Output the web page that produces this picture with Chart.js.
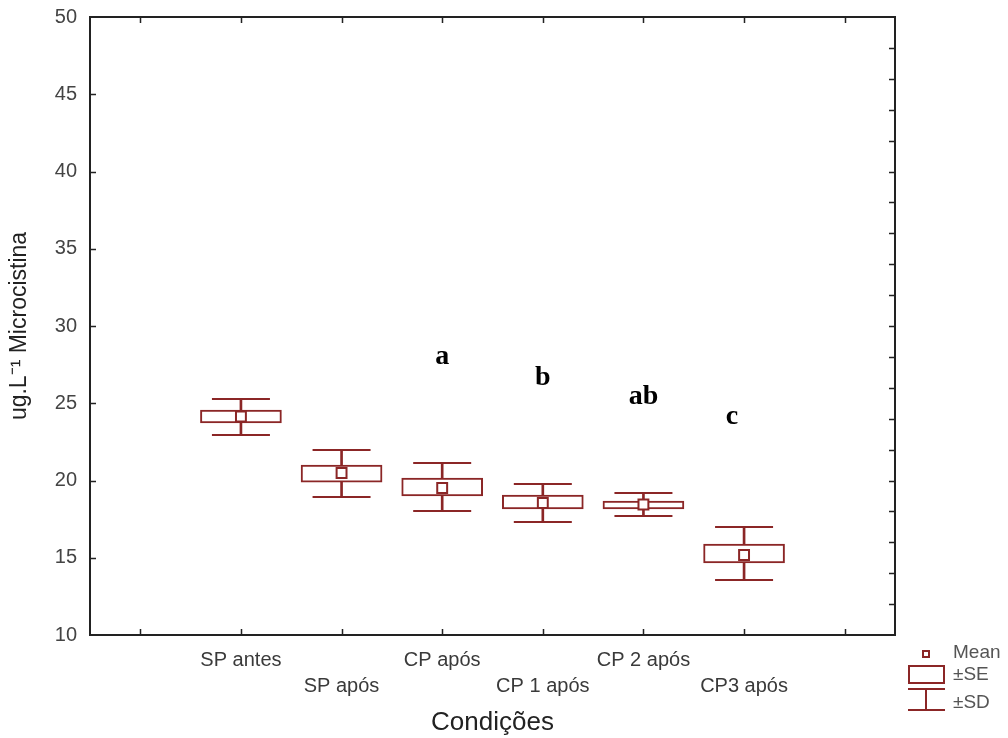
<!DOCTYPE html>
<html>
<head>
<meta charset="utf-8">
<script src="https://cdn.jsdelivr.net/npm/chart.js@4.4.1/dist/chart.umd.min.js"></script>
<style>
  html, body { margin: 0; padding: 0; background: #fff; }
  #wrap { width: 1008px; height: 738px; }
</style>
</head>
<body>
<div id="wrap"><canvas id="boxChart" width="1008" height="738"></canvas></div>
<script>
// categories (first and last slot are empty on the axis)
var categories = ["", "SP antes", "SP após", "CP após", "CP 1 após", "CP 2 após", "CP3 após", ""];
// mean, +-SE and +-SD (ug/L)
var means  = [null, 24.14, 20.49, 19.51, 18.54, 18.45, 15.18, null];
var seLow  = [null, 23.72, 19.90, 19.00, 18.16, 18.16, 14.66, null];
var seHigh = [null, 24.56, 21.00, 20.16, 19.06, 18.67, 15.89, null];
var sdLow  = [null, 22.94, 18.93, 18.03, 17.31, 17.70, 13.56, null];
var sdHigh = [null, 25.28, 21.97, 21.13, 19.77, 19.19, 16.99, null];
// significance letters
var letters = ["a", "b", "ab", "c"];
var letterX = [3, 4, 5, 5.88];
var letterY = [27.99, 26.63, 25.40, 24.11];

var RED = "#8b2626";
var INK = "#222";

var seBox = seLow.map(function(v, i){ return v === null ? null : [v, seHigh[i]]; });
var sdBar = sdLow.map(function(v, i){ return v === null ? null : [v, sdHigh[i]]; });

// ticks pointing into the plot + frame
var frameTicks = {
  id: 'frameTicks',
  afterDatasetsDraw: function(chart){
    var ctx = chart.ctx, a = chart.chartArea;
    var x = chart.scales.x, y = chart.scales.y, y2 = chart.scales.y2;
    ctx.save();
    ctx.strokeStyle = INK;
    ctx.lineWidth = 1.5;
    ctx.beginPath();
    x.ticks.forEach(function(t, i){
      var px = Math.round(x.getPixelForTick(i)) + 0.5;
      ctx.moveTo(px, a.bottom); ctx.lineTo(px, a.bottom - 6);
      ctx.moveTo(px, a.top); ctx.lineTo(px, a.top + 6);
    });
    y.ticks.forEach(function(t, i){
      if (i === 0 || i === y.ticks.length - 1) return;
      var py = Math.round(y.getPixelForTick(i)) + 0.5;
      ctx.moveTo(a.left, py); ctx.lineTo(a.left + 6, py);
    });
    y2.ticks.forEach(function(t, i){
      if (i === 0 || i === y2.ticks.length - 1) return;
      var py = Math.round(y2.getPixelForTick(i)) + 0.5;
      ctx.moveTo(a.right, py); ctx.lineTo(a.right - 6, py);
    });
    ctx.stroke();
    ctx.lineWidth = 2;
    ctx.strokeRect(a.left, a.top, a.right - a.left, a.bottom - a.top);

    // letters
    ctx.fillStyle = "#000";
    ctx.font = "bold 28px 'Liberation Serif', 'Times New Roman', serif";
    ctx.textAlign = "center";
    ctx.textBaseline = "middle";
    letters.forEach(function(s, i){
      ctx.fillText(s, x.getPixelForValue(letterX[i]), y.getPixelForValue(letterY[i]));
    });
    ctx.restore();
  }
};

// Statistica style legend in the right margin
var boxLegend = {
  id: 'boxLegend',
  afterDraw: function(chart){
    var ctx = chart.ctx;
    ctx.save();
    ctx.strokeStyle = RED;
    ctx.lineWidth = 2;
    ctx.strokeRect(923, 651, 6, 6);
    ctx.strokeRect(909, 666, 35, 17);
    ctx.beginPath();
    ctx.moveTo(908, 689); ctx.lineTo(945, 689);
    ctx.moveTo(926, 689); ctx.lineTo(926, 710);
    ctx.moveTo(908, 710); ctx.lineTo(945, 710);
    ctx.stroke();
    ctx.fillStyle = "#555";
    ctx.font = "19px 'Liberation Sans', Arial, sans-serif";
    ctx.textAlign = "left";
    ctx.textBaseline = "middle";
    ctx.fillText("Mean", 953, 653);
    ctx.fillText("±SE", 953, 675);
    ctx.fillText("±SD", 953, 703);
    ctx.restore();
  }
};

var boxCanvas = document.getElementById("boxChart");
var myBoxChart = new Chart(boxCanvas, {
  data: {
    labels: categories,
    datasets: [
      {
        type: 'line', label: 'Mean', data: means, showLine: false, order: 1,
        pointStyle: 'rect', pointRadius: 7, pointBorderWidth: 2,
        pointBackgroundColor: '#fff', pointBorderColor: RED
      },
      {
        type: 'bar', label: '±SE', data: seBox, order: 2, grouped: false,
        barThickness: 81, borderWidth: 2, borderSkipped: false,
        backgroundColor: '#fff', borderColor: RED
      },
      {
        type: 'bar', label: '±SD', data: sdBar, order: 3, grouped: false,
        barThickness: 2, borderWidth: 0, backgroundColor: RED
      },
      {
        type: 'line', label: 'SD high', data: sdHigh, showLine: false, order: 3,
        pointStyle: 'line', pointRadius: 29, pointBorderWidth: 2, pointBorderColor: RED
      },
      {
        type: 'line', label: 'SD low', data: sdLow, showLine: false, order: 3,
        pointStyle: 'line', pointRadius: 29, pointBorderWidth: 2, pointBorderColor: RED
      }
    ]
  },
  options: {
    responsive: false,
    animation: false,
    events: [],
    layout: { autoPadding: false, padding: { top: 17, right: 113, left: 0, bottom: 0 } },
    plugins: { legend: { display: false }, tooltip: { enabled: false } },
    scales: {
      x: {
        type: 'category',
        offset: true,
        grid: { display: false, drawTicks: false },
        border: { display: false },
        ticks: {
          autoSkip: false, maxRotation: 0, minRotation: 0, padding: 12,
          color: '#3a3a3a',
          font: { family: "'Liberation Sans', Arial, sans-serif", size: 20, lineHeight: 1.3 },
          callback: function(v, i){
            var s = this.getLabelForValue(v);
            return i % 2 === 0 ? ['', s] : s;
          }
        },
        title: {
          display: true, text: 'Condições', color: INK,
          font: { family: "'Liberation Sans', Arial, sans-serif", size: 26 },
          padding: { top: 0, bottom: 0 }
        },
        afterFit: function(scale){ scale.height = 103; scale.paddingLeft = 0; scale.paddingRight = 0; }
      },
      y: {
        position: 'left',
        min: 10, max: 50,
        grid: { display: false, drawTicks: false },
        border: { display: false },
        ticks: {
          stepSize: 5, padding: 13, color: '#444',
          font: { family: "'Liberation Sans', Arial, sans-serif", size: 20 }
        },
        title: {
          display: true, text: 'ug.L⁻¹ Microcistina', color: INK,
          font: { family: "'Liberation Sans', Arial, sans-serif", size: 23 },
          padding: { top: 6, bottom: 0 }
        },
        afterFit: function(scale){ scale.width = 90; scale.paddingTop = 0; scale.paddingBottom = 0; }
      },
      y2: {
        position: 'right',
        min: 10, max: 50,
        grid: { display: false, drawTicks: false },
        border: { display: false },
        ticks: { stepSize: 2, display: false },
        afterFit: function(scale){ scale.width = 0; scale.paddingTop = 0; scale.paddingBottom = 0; }
      }
    }
  },
  plugins: [frameTicks, boxLegend]
});
</script>
</body>
</html>
